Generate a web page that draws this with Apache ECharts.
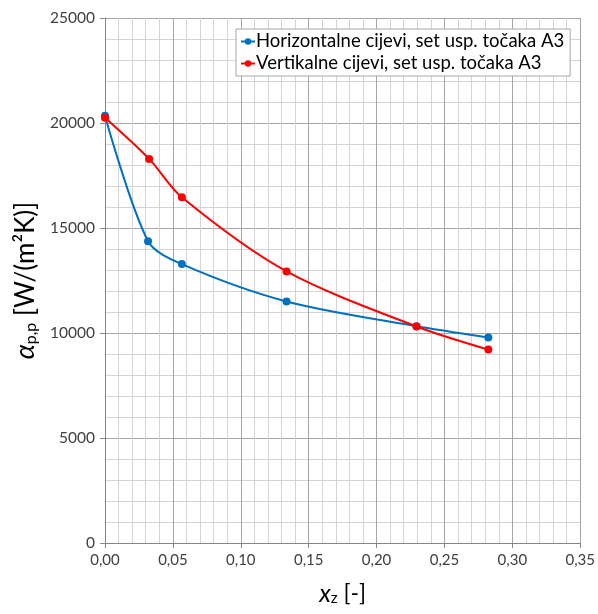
<!DOCTYPE html>
<html>
<head>
<meta charset="utf-8">
<script src="https://cdn.jsdelivr.net/npm/echarts@6/dist/echarts.min.js"></script>
<style>
  html, body { margin: 0; padding: 0; background: #fff; }
  #chart { width: 598px; height: 614px; }
</style>
</head>
<body>
<div id="chart"></div>
<script>
// values
const horizX = [0.0, 0.0317, 0.0566, 0.1337, 0.2294, 0.2823];
const horizY = [20350, 14370, 13280, 11500, 10320, 9790];
const vertX = [0.0, 0.0325, 0.0566, 0.1337, 0.2294, 0.2823];
const vertY = [20250, 18290, 16460, 12930, 10310, 9210];
const seriesNames = ['Horizontalne cijevi, set usp. točaka A3', 'Vertikalne cijevi, set usp. točaka A3'];

const font = 'Lato, "Noto Sans", sans-serif';
const pairs = (xs, ys) => xs.map((x, i) => [x, ys[i]]);

let chart = echarts.init(document.getElementById('chart'));

chart.setOption({
  animation: false,
  color: ['#0070C0', '#FF0000'],
  grid: { left: 105, right: 15, top: 18, bottom: 71 },
  legend: {
    orient: 'vertical',
    left: 236,
    top: 29,
    backgroundColor: '#fff',
    borderColor: '#a6a6a6',
    borderWidth: 1,
    borderRadius: 0,
    padding: [3, 6, 3, 4],
    itemGap: 3,
    itemWidth: 14,
    itemHeight: 8,
    textStyle: { fontFamily: font, fontSize: 18.5, color: '#000', padding: [0, 0, 0, -4] },
    data: seriesNames
  },
  xAxis: {
    type: 'value',
    min: 0,
    max: 0.35,
    interval: 0.05,
    name: '{i|x}{s|z}{n| [-]}',
    nameLocation: 'middle',
    nameGap: 38,
    nameTextStyle: {
      rich: {
        i: { fontFamily: font, fontSize: 25, fontStyle: 'italic', color: '#000' },
        s: { fontFamily: font, fontSize: 15, color: '#000', verticalAlign: 'bottom', padding: [10, 0, 0, 0] },
        n: { fontFamily: font, fontSize: 23, color: '#000' }
      }
    },
    axisLine: { lineStyle: { color: '#868686' } },
    axisTick: { show: true, length: 5, lineStyle: { color: '#868686' } },
    axisLabel: {
      fontFamily: font, fontSize: 15, color: '#404040', margin: 10,
      formatter: v => v.toFixed(2).replace('.', ',')
    },
    splitLine: { show: true, lineStyle: { color: '#a6a6a6', width: 1 } },
    minorTick: { show: false, splitNumber: 5 },
    minorSplitLine: { show: true, lineStyle: { color: '#d4d4d4', width: 1 } }
  },
  yAxis: {
    type: 'value',
    min: 0,
    max: 25000,
    interval: 5000,
    name: '{i|α}{s|p,p}{n| [W/(m²K)]}',
    nameLocation: 'middle',
    nameGap: 62,
    nameRotate: 90,
    nameTextStyle: {
      rich: {
        i: { fontFamily: font, fontSize: 27, fontStyle: 'italic', color: '#000' },
        s: { fontFamily: font, fontSize: 16, color: '#000', verticalAlign: 'bottom', padding: [10, 0, 0, 0] },
        n: { fontFamily: font, fontSize: 26, color: '#000' }
      }
    },
    axisLine: { show: true, lineStyle: { color: '#868686' } },
    axisTick: { show: true, length: 5, lineStyle: { color: '#868686' } },
    axisLabel: {
      fontFamily: font, fontSize: 15.5, color: '#404040', margin: 10,
      formatter: v => String(v)
    },
    splitLine: { show: true, lineStyle: { color: '#a6a6a6', width: 1 } },
    minorTick: { show: false, splitNumber: 5 },
    minorSplitLine: { show: true, lineStyle: { color: '#d4d4d4', width: 1 } }
  },
  series: [
    {
      name: seriesNames[0],
      type: 'line',
      smooth: 0.3,
      symbol: 'circle',
      symbolSize: 8,
      lineStyle: { width: 2 },
      data: pairs(horizX, horizY)
    },
    {
      name: seriesNames[1],
      type: 'line',
      smooth: 0.3,
      symbol: 'circle',
      symbolSize: 8,
      lineStyle: { width: 2 },
      data: pairs(vertX, vertY)
    }
  ]
});
</script>
</body>
</html>
